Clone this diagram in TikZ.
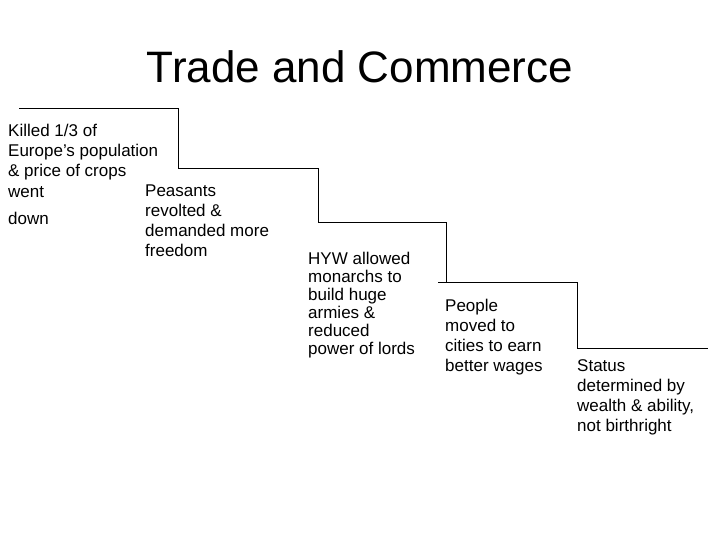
\documentclass[tikz,border=0pt]{standalone}
\usepackage{fontspec}
\setmainfont{Liberation Sans}
\begin{document}
\begin{tikzpicture}[x=1pt,y=-1pt,
  txt/.style={anchor=base west,align=left,inner sep=0pt,font=\fontsize{17}{20}\selectfont},
  stair/.style={line width=0.9pt}]
\useasboundingbox (0,0) rectangle (720,540);
\node[font=\fontsize{44}{48}\selectfont,anchor=base] (title) at (360,83) {Trade and Commerce};
\draw[stair] (19,108) -- (178,108) -- (178,168) -- (318,168) -- (318,222) -- (446,222) -- (446,282);
\draw[stair] (438,282) -- (577,282) -- (577,348) -- (708,348);
\node[txt] (a) at (8,225) {Killed 1/3 of\\Europe’s population\\\& price of crops\\went\\[8pt]down};
\node[txt] (b) at (145,256) {Peasants\\revolted \&\\demanded more\\freedom};
\node[txt,font=\fontsize{17}{18}\selectfont] (c) at (308,354) {HYW allowed\\monarchs to\\build huge\\armies \&\\reduced\\power of lords};
\node[txt] (d) at (445,371) {People\\moved to\\cities to earn\\better wages};
\node[txt] (e) at (577,431) {Status\\determined by\\wealth \& ability,\\not birthright};
\end{tikzpicture}
\end{document}
